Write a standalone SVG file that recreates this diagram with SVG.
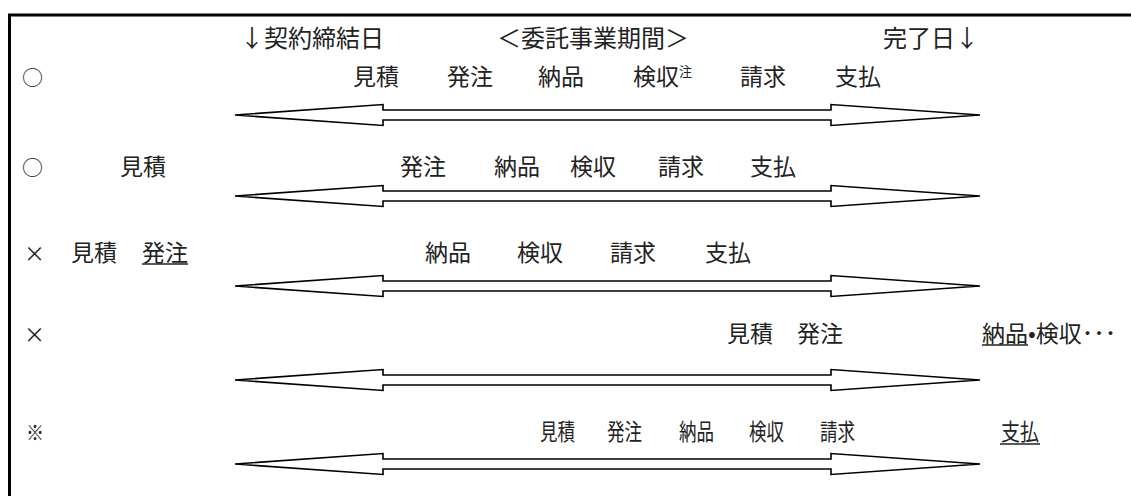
<svg xmlns="http://www.w3.org/2000/svg" width="1131" height="496" viewBox="0 0 1131 496">
<style>
text{font-family:"Noto Sans CJK JP","Noto Sans CJK SC",sans-serif;font-size:23px;fill:#222}
.h{font-size:24px}
.sup{font-size:13px}
.c{font-size:21px}
.arr{fill:#fff;stroke:#000;stroke-width:1.6;stroke-linejoin:miter}
.ul{stroke:#222;stroke-width:1.5}
</style>
<defs>
<polygon id="dbl" class="arr" points="235,0 383,-10.5 383,-5 831,-5 831,-10.5 980,0 831,10.5 831,5 383,5 383,10.5"/>
</defs>
<rect x="0" y="0" width="1131" height="496" fill="#fff"/>
<path d="M9.5 496 V15 H1131" fill="none" stroke="#000" stroke-width="3"/>
<g id="header">
<text class="h" x="240" y="47">↓契約締結日</text>
<text class="h" x="497" y="47">＜委託事業期間＞</text>
<text class="h" x="883" y="47">完了日↓</text>
</g>
<g id="row1">
<text class="c" x="22" y="85">○</text>
<text x="353" y="85">見積</text>
<text x="447" y="85">発注</text>
<text x="538" y="85">納品</text>
<text x="633" y="85">検収<tspan class="sup" dy="-9">注</tspan></text>
<text x="740" y="85">請求</text>
<text x="835" y="85">支払</text>
</g>
<g id="row2">
<text class="c" x="22" y="175">○</text>
<text x="120" y="175">見積</text>
<text x="400" y="175">発注</text>
<text x="494" y="175">納品</text>
<text x="570" y="175">検収</text>
<text x="658" y="175">請求</text>
<text x="750" y="175">支払</text>
</g>
<g id="row3">
<text class="c" x="24" y="261">×</text>
<text x="71" y="261">見積</text>
<text x="142" y="261">発注</text>
<line class="ul" x1="142" y1="264" x2="188" y2="264"/>
<text x="425" y="261">納品</text>
<text x="517" y="261">検収</text>
<text x="610" y="261">請求</text>
<text x="705" y="261">支払</text>
</g>
<g id="row4">
<text class="c" x="24" y="342">×</text>
<text x="727" y="342">見積</text>
<text x="797" y="342">発注</text>
<text x="982" y="342">納品•検収･･･</text>
<line class="ul" x1="982" y1="345" x2="1028" y2="345"/>
</g>
<g id="row5">
<text class="c" x="26" y="440" textLength="18" lengthAdjust="spacingAndGlyphs">※</text>
<text x="540" y="440" textLength="35" lengthAdjust="spacingAndGlyphs">見積</text>
<text x="607" y="440" textLength="35" lengthAdjust="spacingAndGlyphs">発注</text>
<text x="679" y="440" textLength="35" lengthAdjust="spacingAndGlyphs">納品</text>
<text x="749" y="440" textLength="35" lengthAdjust="spacingAndGlyphs">検収</text>
<text x="820" y="440" textLength="35" lengthAdjust="spacingAndGlyphs">請求</text>
<text x="1001" y="440" textLength="38" lengthAdjust="spacingAndGlyphs">支払</text>
<line class="ul" x1="1000" y1="444" x2="1040" y2="444"/>
</g>
<g id="arrows">
<use href="#dbl" y="115"/>
<use href="#dbl" y="196"/>
<use href="#dbl" y="286"/>
<use href="#dbl" y="380"/>
<use href="#dbl" y="464"/>
</g>
</svg>
